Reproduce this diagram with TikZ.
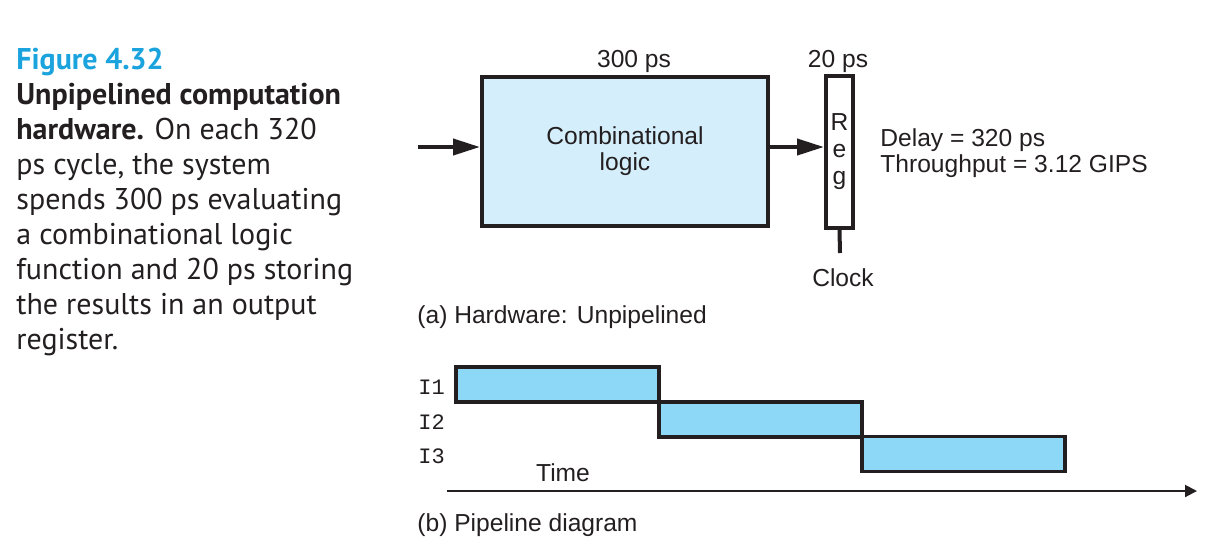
\documentclass[tikz,border=0pt]{standalone}
\usepackage{fontspec}
\setmainfont{Liberation Sans}
\newfontfamily\capfont{PT Sans}
\newfontfamily\monof{Liberation Mono}
\usetikzlibrary{arrows.meta}
\definecolor{ink}{HTML}{231F20}
\definecolor{figblue}{HTML}{1BA3DE}
\definecolor{combfill}{HTML}{D5EEFB}
\definecolor{pipefill}{HTML}{8DD7F7}
\tikzset{
  lbl/.style={inner sep=0pt, text=ink, font=\fontsize{12.3}{13}\selectfont},
  thickbox/.style={draw=ink, line width=2pt, inner sep=0pt},
  bigarrow/.style={draw=ink, line width=2pt, -{Triangle[length=13.5pt,width=8pt]}},
  pipebox/.style={thickbox, fill=pipefill, line width=1.8pt, minimum width=101.5pt, minimum height=17.5pt},
  ilbl/.style={inner sep=0pt, text=ink, font=\monof\fontsize{11}{13}\selectfont, anchor=base west},
}
\begin{document}
\begin{tikzpicture}[x=0.5pt,y=-0.5pt]
\useasboundingbox (0,0) rectangle (1226,554);
% caption
\node[anchor=north west, inner sep=0pt, align=left, text=ink,
      font=\capfont\fontsize{15}{17.5}\selectfont] (cap) at (16,48)
  {\textcolor{figblue}{\bfseries Figure 4.32}\\
   \textbf{Unpipelined computation}\\
   \textbf{hardware.} On each 320\\
   ps cycle, the system\\
   spends 300 ps evaluating\\
   a combinational logic\\
   function and 20 ps storing\\
   the results in an output\\
   register.};
% hardware
\node[thickbox, fill=combfill, minimum width=143pt, minimum height=74.5pt,
      align=center, lbl] (comb) at (625,151.5) {Combinational\\logic};
\node[thickbox, minimum width=13.5pt, minimum height=76pt, align=center, lbl,
      font=\fontsize{12.3}{13.5}\selectfont] (reg) at (839.5,152) {R\\e\\g};
\coordinate (in) at (418,147);
\coordinate (clk) at (840,253);
\draw[bigarrow] (in) -- (in -| comb.west);
\draw[bigarrow] (comb.east |- in) -- (reg.west |- in);
\draw[draw=ink, line width=2pt] (reg.south) -- (clk);
\node[lbl, anchor=base] (t300) at (634,67) {300 ps};
\node[lbl, anchor=base] (t20) at (838,67) {20 ps};
\node[lbl, anchor=base] (clock) at (843,286) {Clock};
\node[lbl, anchor=base west] (delay) at (880,146) {Delay = 320 ps};
\node[lbl, anchor=base west] (thr) at (880,172) {Throughput = 3.12 GIPS};
\node[lbl, anchor=base west] (capa) at (417,323) {(a) Hardware: Unpipelined};
% pipeline
\node[pipebox] (p1) at (557.5,384.5) {};
\node[pipebox] (p2) at (760.5,419.5) {};
\node[pipebox] (p3) at (963.5,454) {};
\node[ilbl] (i1) at (418,394) {I1};
\node[ilbl] (i2) at (418,429) {I2};
\node[ilbl] (i3) at (418,463) {I3};
\node[lbl, anchor=base] (time) at (563,481) {Time};
\coordinate (ta) at (447,491);
\coordinate (tb) at (1197,491);
\draw[draw=ink, line width=1pt, -{Triangle[length=6pt,width=6pt]}] (ta) -- (tb);
\node[lbl, anchor=base west] (capb) at (417,531) {(b) Pipeline diagram};
\end{tikzpicture}
\end{document}
